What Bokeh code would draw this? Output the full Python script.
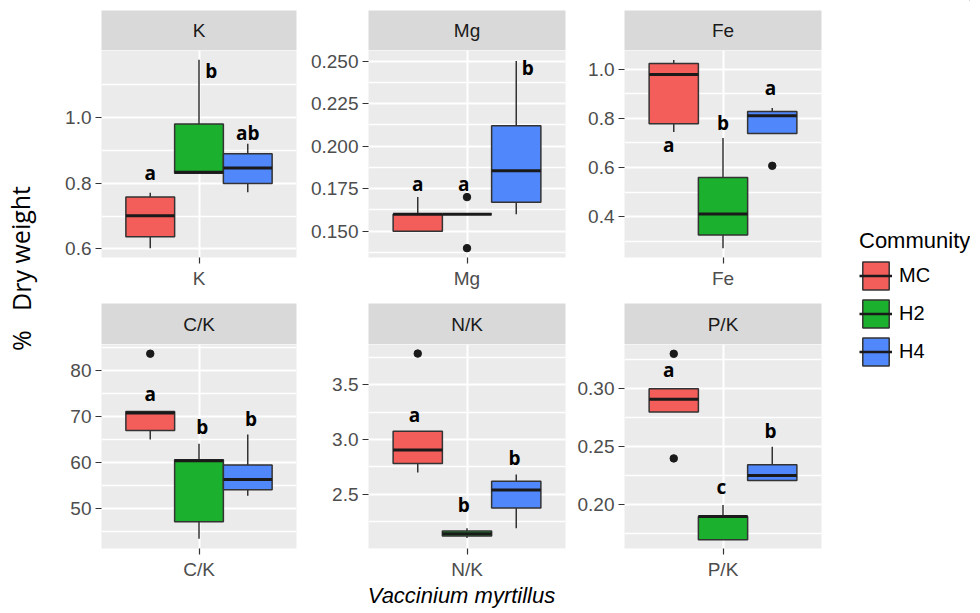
from bokeh.plotting import figure
from bokeh.models import (ColumnDataSource, Range1d, FixedTicker, Legend, LegendItem,
                          PrintfTickFormatter)
from bokeh.layouts import row, column
from bokeh.embed import file_html
from bokeh.resources import INLINE
from bokeh.core.properties import value

# ---------------- data ----------------
panels = ["K", "Mg", "Fe", "C/K", "N/K", "P/K"]
communities = ["MC", "H2", "H4"]
colors = ["#F35E5A", "#1BB12E", "#5087FA"]

# box-plot statistics per panel (order MC, H2, H4)
whisker_low = [
    [0.602, 0.830, 0.772],
    [0.150, 0.160, 0.160],
    [0.744, 0.272, 0.738],
    [64.9, 43.3, 52.7],
    [2.70, 2.10, 2.19],
    [0.280, 0.170, 0.221],
]
q1 = [
    [0.637, 0.830, 0.799],
    [0.150, 0.160, 0.167],
    [0.778, 0.326, 0.738],
    [66.9, 47.0, 54.0],
    [2.781, 2.120, 2.374],
    [0.280, 0.170, 0.221],
]
median = [
    [0.701, 0.833, 0.846],
    [0.160, 0.160, 0.1855],
    [0.978, 0.411, 0.811],
    [70.7, 60.3, 56.2],
    [2.904, 2.140, 2.540],
    [0.291, 0.190, 0.2254],
]
q3 = [
    [0.758, 0.980, 0.889],
    [0.160, 0.160, 0.212],
    [1.023, 0.559, 0.828],
    [71.0, 60.5, 59.4],
    [3.075, 2.165, 2.620],
    [0.300, 0.190, 0.2345],
]
whisker_high = [
    [0.771, 1.175, 0.920],
    [0.170, 0.160, 0.250],
    [1.037, 0.720, 0.842],
    [71.0, 64.0, 66.0],
    [3.075, 2.190, 2.680],
    [0.300, 0.200, 0.250],
]

# outliers: panel index, community index, value
outlier_panel = [1, 1, 2, 3, 4, 5, 5]
outlier_group = [1, 1, 2, 0, 0, 0, 0]
outlier_value = [0.170, 0.140, 0.607, 83.6, 3.785, 0.330, 0.240]

# significance letters
letters = [["a", "b", "ab"], ["a", "a", "b"], ["a", "b", "a"],
           ["a", "b", "b"], ["a", "b", "b"], ["a", "c", "b"]]
letter_x = [[0.70, 1.075, 1.30], [0.70, 0.98, 1.37], [0.67, 1.00, 1.29],
            [0.70, 1.02, 1.32], [0.68, 0.98, 1.29], [0.67, 0.99, 1.29]]
letter_y = [[0.831, 1.140, 0.952], [0.178, 0.178, 0.2457], [0.693, 0.781, 0.922],
            [74.8, 67.7, 69.4], [3.225, 2.40, 2.83], [0.316, 0.215, 0.264]]

# axes
y_limits = [(0.574, 1.203), (0.1345, 0.2562), (0.234, 1.076),
            (41.2, 85.6), (2.005, 3.868), (0.1625, 0.338)]
y_major = [[0.6, 0.8, 1.0], [0.150, 0.175, 0.200, 0.225, 0.250], [0.4, 0.6, 0.8, 1.0],
           [50, 60, 70, 80], [2.0, 2.5, 3.0, 3.5], [0.20, 0.25, 0.30]]
y_minor = [[0.7, 0.9, 1.1], [0.1375, 0.1625, 0.1875, 0.2125, 0.2375], [0.3, 0.5, 0.7, 0.9],
           [45, 55, 65, 75, 85], [2.25, 2.75, 3.25, 3.75], [0.175, 0.225, 0.275, 0.325]]
y_format = ["%.1f", "%.3f", "%.1f", "%d", "%.1f", "%.2f"]

y_title = "%\u00a0\u00a0 Dry weight"
x_title = "Vaccinium myrtillus"
legend_title = "Community"

# ---------------- style ----------------
TICK_FONT = value("Liberation Sans")
PANEL_BG = "#EBEBEB"
STRIP_BG = "#D9D9D9"
TICK_COL = "#4D4D4D"
BOX_W = 0.3

col_widths = [254, 269, 256]
col_left = [54, 67, 54]
RIGHT = 5


def style_axis(ax):
    ax.axis_line_color = None
    ax.major_tick_line_color = "#333333"
    ax.major_tick_line_width = 1.2
    ax.major_tick_in = 0
    ax.major_tick_out = 6
    ax.minor_tick_line_color = None
    ax.major_label_text_font = "Liberation Sans"
    ax.major_label_text_font_size = "19px"
    ax.major_label_text_color = TICK_COL
    ax.major_label_standoff = 4


def strip_fig(i, col, height, top):
    s = figure(width=col_widths[col], height=height, x_range=Range1d(0, 1), y_range=Range1d(0, 1),
               toolbar_location=None, tools="", output_backend="svg",
               x_axis_location=None, y_axis_location=None,
               min_border_left=col_left[col], min_border_right=RIGHT,
               min_border_top=top, min_border_bottom=0)
    s.grid.visible = False
    s.outline_line_color = None
    s.background_fill_color = STRIP_BG
    s.border_fill_color = "white"
    s.text(x=[0.5], y=[0.5], text=[panels[i]], text_align="center", text_baseline="middle",
           text_font=TICK_FONT, text_font_size="19px", text_color="#1A1A1A")
    return s


def panel_fig(i, col, height, bottom):
    lo, hi = y_limits[i]
    p = figure(width=col_widths[col], height=height, x_range=Range1d(0.4, 1.6), y_range=Range1d(lo, hi),
               toolbar_location=None, tools="", output_backend="svg",
               min_border_left=col_left[col], min_border_right=RIGHT,
               min_border_top=0, min_border_bottom=bottom)
    p.outline_line_color = None
    p.background_fill_color = PANEL_BG
    p.border_fill_color = "white"

    xt = FixedTicker(ticks=[1])
    yt = FixedTicker(ticks=y_major[i], minor_ticks=y_minor[i])
    p.xaxis.ticker = xt
    p.yaxis.ticker = yt
    p.xgrid.ticker = xt
    p.ygrid.ticker = yt
    p.xaxis.major_label_overrides = {1: panels[i]}
    p.yaxis.formatter = PrintfTickFormatter(format=y_format[i])
    for ax in (p.xaxis[0], p.yaxis[0]):
        style_axis(ax)
    for g in (p.xgrid[0], p.ygrid[0]):
        g.grid_line_color = "white"
        g.grid_line_width = 2
    p.ygrid.minor_grid_line_color = "white"
    p.ygrid.minor_grid_line_width = 1.3

    centers = [1 + (g - 1) * BOX_W for g in range(3)]
    src = ColumnDataSource(dict(
        x=centers,
        lo=whisker_low[i], q1=q1[i], med=median[i], q3=q3[i], hi=whisker_high[i],
        left=[c - BOX_W / 2 for c in centers], right=[c + BOX_W / 2 for c in centers],
        color=colors,
    ))
    p.segment(x0="x", y0="q3", x1="x", y1="hi", source=src, line_color="#333333", line_width=1.5)
    p.segment(x0="x", y0="lo", x1="x", y1="q1", source=src, line_color="#333333", line_width=1.5)
    p.vbar(x="x", width=BOX_W, bottom="q1", top="q3", source=src, fill_color="color",
           line_color="#333333", line_width=1.5)
    p.segment(x0="left", y0="med", x1="right", y1="med", source=src, line_color="#1A1A1A",
              line_width=3)

    ox = [centers[g] for pi, g in zip(outlier_panel, outlier_group) if pi == i]
    oy = [v for pi, v in zip(outlier_panel, outlier_value) if pi == i]
    if ox:
        p.scatter(x=ox, y=oy, size=7.5, fill_color="#1A1A1A", line_color="#1A1A1A")

    p.text(x=letter_x[i], y=letter_y[i], text=letters[i], text_align="center",
           text_baseline="middle", text_font=value("Open Sans"), text_font_style="bold",
           text_font_size="19px", text_color="black")
    return p


cols = []
for col in range(3):
    top_i = col
    bot_i = col + 3
    cols.append(column(
        strip_fig(top_i, col, 50, 10),
        panel_fig(top_i, col, 253, 46),
        strip_fig(bot_i, col, 41, 0),
        panel_fig(bot_i, col, 238, 30),
    ))

grid_w = sum(col_widths)
XT_H = 29

# x title
xt_fig = figure(width=grid_w, height=XT_H, x_range=Range1d(0, grid_w), y_range=Range1d(0, XT_H),
                toolbar_location=None, tools="", output_backend="svg",
                x_axis_location=None, y_axis_location=None, min_border=0)
xt_fig.grid.visible = False
xt_fig.outline_line_color = None
xt_fig.text(x=[414], y=[XT_H - 13], text=[x_title], text_align="center", text_baseline="middle",
            text_font=TICK_FONT, text_font_style="italic", text_font_size="22px", text_color="black")

# y title
H = 50 + 253 + 41 + 238 + XT_H
YT_W = 47
yt_fig = figure(width=YT_W, height=H, x_range=Range1d(0, YT_W), y_range=Range1d(0, H),
                toolbar_location=None, tools="", output_backend="svg",
                x_axis_location=None, y_axis_location=None, min_border=0)
yt_fig.grid.visible = False
yt_fig.outline_line_color = None
yt_fig.text(x=[20], y=[H - 268], text=[y_title], angle=1.5708, text_align="center",
            text_baseline="middle", text_font=value("Open Sans"), text_font_size="25px",
            text_color="black")

# legend
LG_W = 144
lg = figure(width=LG_W, height=H, x_range=Range1d(0, 1), y_range=Range1d(0, 1),
            toolbar_location=None, tools="", output_backend="svg",
            x_axis_location=None, y_axis_location=None, min_border=0)
lg.grid.visible = False
lg.outline_line_color = None
items = []
for name, c in zip(communities, colors):
    # a single key sample placed outside the visible range, only used for the legend glyph
    es = ColumnDataSource(dict(x=[5.0], b=[5.0], t=[6.0], x0=[5.0], x1=[6.0], y=[5.5]))
    r1 = lg.vbar(x="x", width=0.1, bottom="b", top="t", source=es, fill_color=c,
                 line_color="#333333", line_width=1.5)
    r2 = lg.segment(x0="x0", y0="y", x1="x1", y1="y", source=es, line_color="#1A1A1A", line_width=2.5)
    items.append(LegendItem(label=name, renderers=[r1, r2]))
legend = Legend(items=items, location=(33, H - 369), title=legend_title,
                title_text_font="Liberation Sans", title_text_font_size="22px",
                title_text_font_style="normal", title_text_color="black", title_standoff=4,
                label_text_font="Liberation Sans", label_text_font_size="20px",
                label_text_color="black", label_standoff=7,
                glyph_width=33, glyph_height=35, label_height=35, spacing=3,
                padding=0, margin=0, border_line_color=None, background_fill_alpha=0)
lg.add_layout(legend)

layout = row(yt_fig, column(row(*cols), xt_fig), lg)

open("out.html", "w").write(file_html(layout, INLINE))
